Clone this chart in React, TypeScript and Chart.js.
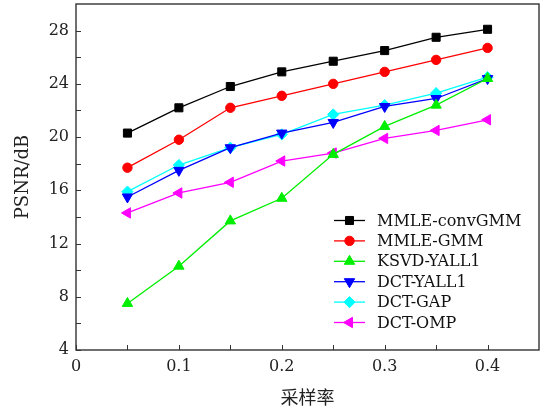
import React, { useEffect, useRef } from 'react';
import { Chart, registerables } from 'chart.js';
import { drawPoint } from 'chart.js/helpers';

Chart.register(...registerables);

const samplingRates = [0.05, 0.1, 0.15, 0.2, 0.25, 0.3, 0.35, 0.4];
const mmleConvGMM = [20.3, 22.2, 23.8, 24.9, 25.7, 26.5, 27.5, 28.1];
const mmleGMM = [17.7, 19.8, 22.2, 23.1, 24.0, 24.9, 25.8, 26.7];
const ksvdYall1 = [7.5, 10.3, 13.7, 15.4, 18.7, 20.8, 22.4, 24.4];
const dctYall1 = [15.5, 17.5, 19.2, 20.3, 21.1, 22.3, 22.9, 24.4];
const dctGap = [15.9, 17.9, 19.2, 20.2, 21.7, 22.4, 23.3, 24.5];
const dctOmp = [14.3, 15.8, 16.6, 18.2, 18.8, 19.9, 20.5, 21.3];

const seriesNames = ['MMLE-convGMM', 'MMLE-GMM', 'KSVD-YALL1', 'DCT-YALL1', 'DCT-GAP', 'DCT-OMP'];

const xTicks = [0, 0.1, 0.2, 0.3, 0.4];
const xMinorTicks = [0.05, 0.15, 0.25, 0.35];
const yTicks = [4, 8, 12, 16, 20, 24, 28];
const yMinorTicks = [6, 10, 14, 18, 22, 26];

const xTitle = '采样率';
const yTitle = 'PSNR/dB';

const SERIF = '"DejaVu Serif", "Liberation Serif", serif';

const styles = [
  { color: '#000000', pointStyle: 'rect', radius: 5.7, rotation: 0 },
  { color: '#ff0000', pointStyle: 'circle', radius: 4.7, rotation: 0 },
  { color: '#00ee00', pointStyle: 'triangle', radius: 6, rotation: 0 },
  { color: '#0000ff', pointStyle: 'triangle', radius: 6, rotation: 180 },
  { color: '#00ffff', pointStyle: 'rectRot', radius: 5.6, rotation: 0 },
  { color: '#ff00ff', pointStyle: 'triangle', radius: 6, rotation: -90 },
];

const allSeries = [mmleConvGMM, mmleGMM, ksvdYall1, dctYall1, dctGap, dctOmp];

const framePlugin = {
  id: 'frameAndTicks',
  afterDraw(chart: any) {
    const { ctx, chartArea } = chart;
    const xs = chart.scales.x;
    const ys = chart.scales.y;
    ctx.save();
    ctx.strokeStyle = '#333333';
    ctx.lineWidth = 1.4;
    ctx.strokeRect(chartArea.left, chartArea.top, chartArea.right - chartArea.left, chartArea.bottom - chartArea.top);
    ctx.lineWidth = 1;
    const tl = 5;
    ctx.beginPath();
    [...xTicks, ...xMinorTicks].forEach((v) => {
      const px = Math.round(xs.getPixelForValue(v)) + 0.5;
      ctx.moveTo(px, chartArea.bottom);
      ctx.lineTo(px, chartArea.bottom - tl);
    });
    [...yTicks, ...yMinorTicks].forEach((v) => {
      const py = Math.round(ys.getPixelForValue(v)) + 0.5;
      ctx.moveTo(chartArea.left, py);
      ctx.lineTo(chartArea.left + tl, py);
    });
    ctx.stroke();

    // legend
    const lx0 = 334;
    const lx1 = 365;
    const ly0 = 220.5;
    const dy = 20.4;
    ctx.font = `16px ${SERIF}`;
    ctx.textBaseline = 'middle';
    ctx.textAlign = 'left';
    seriesNames.forEach((name, i) => {
      const st = styles[i];
      const y = ly0 + i * dy;
      ctx.strokeStyle = st.color;
      ctx.fillStyle = st.color;
      ctx.lineWidth = 1.3;
      ctx.beginPath();
      ctx.moveTo(lx0, y);
      ctx.lineTo(lx1, y);
      ctx.stroke();
      ctx.lineWidth = 1;
      drawPoint(ctx, { pointStyle: st.pointStyle as any, radius: st.radius, rotation: st.rotation, borderWidth: 1 }, (lx0 + lx1) / 2, y);
      ctx.fillStyle = '#111111';
      ctx.fillText(name, 377, y + 1);
    });
    ctx.restore();
  },
};

export default function App() {
  const ref = useRef<HTMLCanvasElement | null>(null);
  useEffect(() => {
    document.body.style.margin = '0';
    const canvas = ref.current;
    if (!canvas) return;
    const chart = new Chart(canvas, {
      type: 'line',
      data: {
        datasets: allSeries.map((arr, i) => ({
          label: seriesNames[i],
          data: samplingRates.map((x, j) => ({ x, y: arr[j] })),
          borderColor: styles[i].color,
          backgroundColor: styles[i].color,
          pointBackgroundColor: styles[i].color,
          pointBorderColor: styles[i].color,
          pointBorderWidth: 1,
          pointStyle: styles[i].pointStyle as any,
          pointRadius: styles[i].radius,
          pointRotation: styles[i].rotation,
          borderWidth: 1.3,
          tension: 0,
          fill: false,
        })),
      },
      options: {
        responsive: false,
        devicePixelRatio: 1,
        animation: false,
        layout: { autoPadding: false, padding: { left: 0, right: 2, top: 4, bottom: 0 } },
        plugins: {
          legend: { display: false },
          tooltip: { enabled: false },
        },
        scales: {
          x: {
            type: 'linear',
            min: 0,
            max: 0.45,
            afterBuildTicks: (s: any) => {
              s.ticks = xTicks.map((v) => ({ value: v }));
            },
            afterFit: (s: any) => {
              s.height = 62;
              s.paddingLeft = 0;
              s.paddingRight = 0;
            },
            grid: { display: false, drawTicks: false },
            border: { display: false },
            ticks: {
              color: '#222222',
              font: { family: SERIF, size: 16 },
              padding: 7,
              maxRotation: 0,
              autoSkip: false,
              callback: (v: any) => String(v),
            },
            title: {
              display: true,
              text: xTitle,
              color: '#222222',
              font: { family: '"Noto Sans CJK SC", sans-serif', size: 18 },
              padding: { top: 4, bottom: 4 },
            },
          },
          y: {
            type: 'linear',
            min: 4,
            max: 30,
            afterBuildTicks: (s: any) => {
              s.ticks = yTicks.map((v) => ({ value: v }));
            },
            afterFit: (s: any) => {
              s.width = 76;
              s.paddingTop = 0;
              s.paddingBottom = 0;
            },
            grid: { display: false, drawTicks: false },
            border: { display: false },
            ticks: {
              color: '#222222',
              font: { family: SERIF, size: 16 },
              padding: 7,
              autoSkip: false,
              callback: (v: any) => String(v),
            },
            title: {
              display: true,
              text: yTitle,
              color: '#222222',
              font: { family: SERIF, size: 18 },
              padding: { top: 13, bottom: 0 },
            },
          },
        },
      },
      plugins: [framePlugin],
    });
    return () => chart.destroy();
  }, []);
  return <canvas ref={ref} width={541} height={412} style={{ display: 'block' }} />;
}
